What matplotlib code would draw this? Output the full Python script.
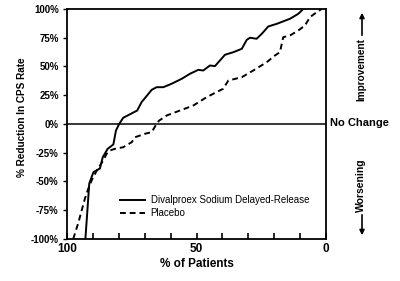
import matplotlib.pyplot as plt

# Divalproex Sodium Delayed-Release (% of patients, % reduction in CPS rate)
drug_pct = [92.9, 91.4, 89.8, 87.3, 86.2, 84.3, 82.1, 81.1, 79.8, 78.3, 72.9, 71.2,
            67.3, 65.4, 62.8, 59.6, 55.7, 52.5, 49.3, 47.4, 44.8, 42.9, 39.0, 35.8,
            32.5, 30.6, 29.3, 26.8, 24.8, 22.3, 19.0, 13.9, 10.7, 8.8]
drug_red = [-100, -51.7, -41.9, -38.7, -28.9, -21.6, -17.8, -5.7, 0.2, 5.4, 11.7, 19.0,
            29.7, 32.0, 32.0, 35.0, 39.3, 43.7, 47.1, 46.5, 50.9, 50.3, 60.2, 62.4,
            65.4, 73.2, 75.0, 74.1, 78.4, 84.8, 87.1, 91.5, 95.8, 100]

# Placebo
plac_pct = [97.6, 95.6, 93.1, 91.8, 90.5, 88.5, 86.0, 84.7, 83.4, 81.5, 78.3, 75.0,
            73.7, 69.9, 67.3, 65.4, 64.4, 61.5, 56.4, 51.2, 46.1, 43.5, 39.7, 37.7,
            32.5, 28.1, 22.9, 19.7, 17.8, 16.5, 13.9, 10.7, 8.1, 6.2, 3.6, 1.7]
plac_red = [-100, -85.7, -65.0, -56.3, -49.1, -40.4, -31.7, -25.9, -23.0, -21.6, -20.2, -15.8,
            -11.5, -8.5, -7.1, 0.2, 3.0, 7.4, 11.7, 16.1, 23.3, 26.3, 30.6, 37.8,
            40.7, 46.5, 53.7, 59.6, 62.4, 75.5, 77.0, 81.3, 85.7, 92.9, 97.2, 100]

y_ticks = [100, 75, 50, 25, 0, -25, -50, -75, -100]
y_labels = ['100%', '75%', '50%', '25%', '0%', '-25%', '-50%', '-75%', '-100%']
x_ticks = list(range(0, 101, 10))
x_labels = ['0', '', '', '', '', '50', '', '', '', '', '100']

plt.rcParams['font.family'] = ['Liberation Sans', 'DejaVu Sans']

fig = plt.figure(figsize=(4, 2.81), dpi=100)
ax = fig.add_axes([0.1675, 0.1495, 0.6475, 0.8185])

ax.plot(drug_pct, drug_red, color='black', lw=1.4, label='Divalproex Sodium Delayed-Release')
ax.plot(plac_pct, plac_red, color='black', lw=1.4, ls=(0, (3, 2)), label='Placebo')
ax.axhline(0, color='black', lw=1.1)

ax.set_xlim(100, 0)
ax.set_ylim(-100, 100)
ax.set_yticks(y_ticks)
ax.set_yticklabels(y_labels, fontsize=7, fontweight='bold')
ax.set_xticks(x_ticks)
ax.set_xticklabels(x_labels, fontsize=8.5, fontweight='bold')
ax.tick_params(axis='x', direction='in', length=4, width=1.2, pad=3)
ax.tick_params(axis='y', direction='out', length=3, width=1, pad=3)
for s in ax.spines.values():
    s.set_linewidth(1.3)

ax.set_xlabel('% of Patients', fontsize=8.5, fontweight='bold', labelpad=2)
ax.set_ylabel('% Reduction In CPS Rate', fontsize=7.2, fontweight='bold')
ax.yaxis.set_label_coords(-0.154, 0.528)

ax.legend(loc='center left', bbox_to_anchor=(0.205, 0.141), frameon=False, fontsize=7,
          handlelength=2.6, handletextpad=0.55, labelspacing=0.3,
          borderaxespad=0, borderpad=0)

# right-hand annotations
fig.text(330 / 400, 1 - 123 / 281, 'No Change', fontsize=8, fontweight='bold', va='center', ha='left')
fig.text(361 / 400, 1 - 70 / 281, 'Improvement', rotation=90, fontsize=7.2, fontweight='bold',
         va='center', ha='center')
fig.text(361 / 400, 1 - 185 / 281, 'Worsening', rotation=90, fontsize=7.5, fontweight='bold',
         va='center', ha='center')
arrow = dict(arrowstyle='-|>', color='black', lw=1.2, mutation_scale=7)
ax.annotate('', xy=(362 / 400, 1 - 10 / 281), xytext=(362 / 400, 1 - 38 / 281),
            xycoords='figure fraction', textcoords='figure fraction', arrowprops=arrow)
ax.annotate('', xy=(362 / 400, 1 - 238 / 281), xytext=(362 / 400, 1 - 212 / 281),
            xycoords='figure fraction', textcoords='figure fraction', arrowprops=arrow)

fig.savefig('out.png', dpi=100)
